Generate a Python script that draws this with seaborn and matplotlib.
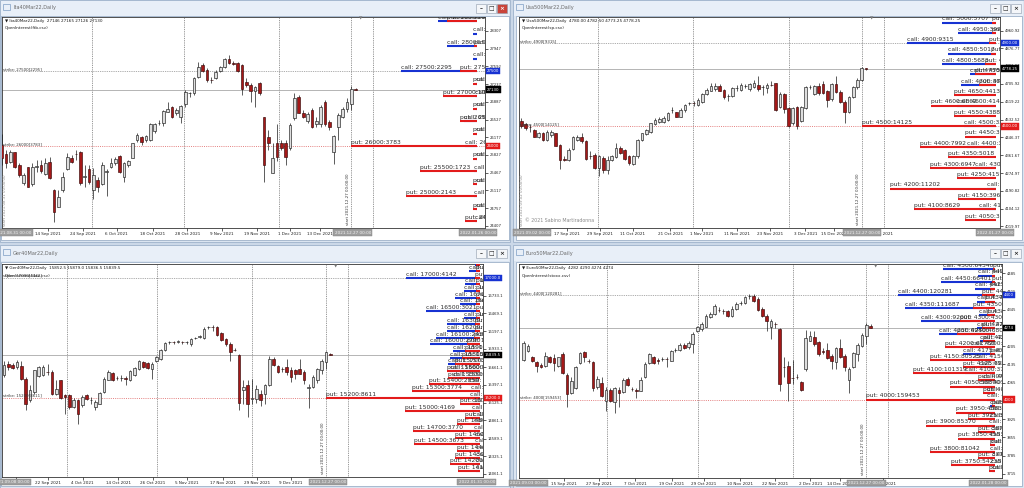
import matplotlib
matplotlib.use("Agg")
import matplotlib.pyplot as plt
import matplotlib.transforms as mtransforms
from matplotlib.patches import Rectangle
import numpy as np
import pandas as pd
import seaborn as sns

sns.set_theme(style="white")
plt.rcParams['font.family'] = ['DejaVu Sans']
plt.rcParams['axes.linewidth'] = 0.6

W, H = 1024, 488

# ---------------- Ita40 ----------------
ita_open = [26026, 25846, 25693, 25880, 25627, 25274, 25580, 25248, 25594, 25627,
            25447, 25693, 25128, 24796, 25128, 25540, 25773, 25846, 25893, 25394,
            25540, 25128, 25328, 25248, 25494, 25594, 25660, 25806, 25394, 25627,
            25773, 26125, 26192, 26125, 26125, 26305, 26458, 26471, 26691, 26790,
            26657, 26591, 26844, 27056, 27056, 27389, 27622, 27522, 27322, 27356,
            27509, 27575, 27735, 27655, 27655, 27622, 27289, 27223, 27110, 27269,
            26578, 26179, 25474, 26059, 26059, 26059, 25959, 26558, 26977, 26657,
            26511, 26724, 26445, 26438, 26890, 26491, 25880, 26391, 26578, 26737,
            26844, 27146]
ita_high = [26245, 25926, 25926, 25893, 25673, 25461, 25594, 25660, 25727, 25727,
            25760, 25793, 25141, 25128, 25494, 25860, 25826, 25926, 25906, 25627,
            25627, 25560, 25394, 25693, 25540, 25760, 25793, 25826, 25693, 25727,
            26072, 26259, 26205, 26225, 26458, 26471, 26524, 26724, 26890, 26804,
            26757, 26824, 27123, 27090, 27389, 27688, 27655, 27555, 27389, 27522,
            27602, 27755, 27821, 27708, 27688, 27642, 27356, 27269, 27203, 27289,
            26591, 26325, 26059, 26445, 26125, 26125, 26458, 27056, 27023, 26724,
            26691, 26757, 26578, 26824, 26924, 26524, 26225, 26657, 26790, 26957,
            27203, 27165]
ita_low = [25627, 25560, 25673, 25560, 25394, 25228, 25181, 25208, 25494, 25461,
           25427, 25341, 24496, 24782, 25095, 25527, 25660, 25727, 25228, 25195,
           25248, 24942, 25095, 25228, 25015, 25560, 25627, 25474, 25294, 25594,
           25760, 26092, 26026, 26092, 26112, 26259, 26425, 26405, 26677, 26558,
           26624, 26471, 26790, 26990, 27023, 27356, 27489, 27289, 27269, 27336,
           27489, 27555, 27642, 27622, 27489, 27023, 27190, 26890, 26777, 27023,
           25294, 25926, 25461, 25713, 25926, 25627, 25926, 26524, 26657, 26558,
           26458, 26358, 26391, 26391, 26405, 26325, 25647, 26125, 26558, 26691,
           26724, 27126]
ita_close = [25760, 25660, 25893, 25580, 25427, 25427, 25195, 25580, 25600, 25514,
             25660, 25361, 24696, 24995, 25394, 25793, 25693, 25840, 25261, 25400,
             25294, 25427, 25181, 25627, 25500, 25660, 25740, 25494, 25660, 25707,
             26059, 26225, 26092, 26205, 26438, 26438, 26465, 26704, 26744, 26578,
             26724, 26804, 27090, 27060, 27369, 27589, 27509, 27322, 27315, 27489,
             27575, 27735, 27655, 27650, 27509, 27136, 27223, 27110, 27176, 27056,
             25627, 26072, 25760, 25780, 25959, 25780, 26425, 26957, 26671, 26578,
             26637, 26391, 26511, 26790, 26445, 26378, 26212, 26624, 26737, 26890,
             27150, 27130]
ita_strikes = [28500, 28250, 28000, 27750, 27500, 27250, 27000, 26750, 26500,
               26250, 26000, 25750, 25500, 25250, 25000, 24750, 24500]
ita_calls = [1160, 120, 910, 120, 2295, 30, 60, 40, 400, 40, 360, 40, 100, 40, 90, 30, 50]
ita_puts = [910, 0, 100, 0, 505, 120, 1031, 120, 505, 120, 3783, 120, 1723, 130, 2143, 120, 374]
ita_yticks = [28307, 27947, 27592, 27237, 26887, 26527, 26177, 25827, 25467, 25117, 24757, 24407]
ita_xlabels = ["14 Sep 2021", "24 Sep 2021", "6 Oct 2021", "18 Oct 2021", "28 Oct 2021",
               "9 Nov 2021", "19 Nov 2021", "1 Dec 2021", "13 Dec 2021"]
ita_boxes = ["2021.08.31 00:00", "2021.12.27 00:00", "2022.01.26 00:00"]

# ---------------- Usa500 ----------------
usa_open = [4528, 4512, 4499, 4483, 4451, 4470, 4435, 4459, 4467, 4411,
            4342, 4336, 4390, 4435, 4451, 4427, 4358, 4363, 4299, 4347,
            4291, 4336, 4352, 4395, 4384, 4355, 4320, 4355, 4432, 4464,
            4475, 4512, 4523, 4523, 4531, 4579, 4567, 4547, 4579, 4611,
            4612, 4603, 4615, 4656, 4672, 4679, 4695, 4676, 4647, 4647,
            4684, 4676, 4695, 4679, 4688, 4700, 4688, 4684, 4700, 4708,
            4592, 4656, 4587, 4515, 4592, 4528, 4587, 4688, 4656, 4695,
            4704, 4668, 4631, 4704, 4663, 4619, 4567, 4640, 4688, 4724,
            4780.00]
usa_high = [4539, 4518, 4512, 4486, 4475, 4475, 4480, 4483, 4470, 4416,
            4355, 4395, 4454, 4459, 4467, 4435, 4379, 4371, 4363, 4355,
            4355, 4363, 4419, 4403, 4390, 4363, 4363, 4438, 4470, 4486,
            4518, 4539, 4547, 4551, 4571, 4592, 4571, 4587, 4608, 4619,
            4624, 4635, 4660, 4684, 4711, 4708, 4704, 4679, 4656, 4688,
            4700, 4708, 4704, 4711, 4724, 4743, 4700, 4708, 4720, 4711,
            4663, 4660, 4592, 4595, 4599, 4599, 4695, 4700, 4700, 4708,
            4716, 4676, 4711, 4743, 4676, 4627, 4647, 4695, 4732, 4788,
            4782.50]
usa_low = [4491, 4480, 4475, 4448, 4443, 4427, 4427, 4451, 4403, 4294,
           4331, 4331, 4384, 4427, 4422, 4339, 4342, 4294, 4259, 4275,
           4272, 4331, 4347, 4368, 4339, 4315, 4315, 4347, 4427, 4459,
           4470, 4507, 4515, 4518, 4528, 4563, 4544, 4544, 4571, 4603,
           4599, 4599, 4611, 4651, 4668, 4672, 4668, 4631, 4624, 4640,
           4672, 4668, 4684, 4672, 4684, 4668, 4652, 4660, 4692, 4576,
           4587, 4563, 4496, 4507, 4486, 4523, 4583, 4679, 4652, 4652,
           4656, 4595, 4624, 4660, 4611, 4518, 4563, 4635, 4679, 4716,
           4773.25]
usa_close = [4502, 4491, 4497, 4451, 4467, 4435, 4475, 4475, 4406, 4339,
             4340, 4387, 4448, 4451, 4427, 4342, 4356, 4299, 4355, 4291,
             4339, 4355, 4395, 4374, 4342, 4323, 4355, 4435, 4467, 4480,
             4515, 4531, 4534, 4539, 4563, 4580, 4547, 4579, 4603, 4612,
             4611, 4627, 4656, 4676, 4692, 4695, 4672, 4643, 4648, 4684,
             4685, 4700, 4696, 4704, 4711, 4679, 4689, 4700, 4699, 4579,
             4656, 4583, 4502, 4587, 4502, 4592, 4688, 4689, 4695, 4660,
             4660, 4627, 4704, 4663, 4619, 4571, 4640, 4688, 4724, 4780,
             4778.25]
usa_strikes = [5000, 4950, 4900, 4850, 4800, 4750, 4700, 4650, 4600, 4550,
               4500, 4450, 4400, 4350, 4300, 4250, 4200, 4150, 4100, 4050]
usa_calls = [5707, 3990, 9315, 5017, 5683, 2770, 3650, 0, 4147, 0,
             3350, 0, 3050, 0, 2176, 0, 950, 0, 1825, 0]
usa_puts = [421, 421, 772, 491, 1120, 2176, 1825, 4413, 6862, 4388,
            14125, 3300, 7992, 5018, 6947, 4157, 11202, 3960, 8629, 3230]
usa_yticks = [4960.92, 4876.77, 4791.07, 4705.92, 4619.22, 4532.52, 4446.37,
              4361.67, 4274.97, 4190.82, 4104.12, 4019.97]
usa_xlabels = ["17 Sep 2021", "29 Sep 2021", "11 Oct 2021", "21 Oct 2021", "1 Nov 2021",
               "11 Nov 2021", "23 Nov 2021", "3 Dec 2021", "15 Dec 2021", "27 Dec 2021"]
usa_boxes = ["2021.09.02 00:00", "2021.12.27 00:00", "2022.01.27 00:00"]

# ---------------- Ger40 ----------------
ger_open = [15535, 15709, 15699, 15659, 15684, 15485, 15160, 15285, 15520, 15535,
            15585, 15585, 15260, 15460, 15235, 15235, 15060, 15160, 15085, 15235,
            15160, 15060, 15110, 15285, 15470, 15570, 15500, 15495, 15490, 15460,
            15535, 15634, 15734, 15719, 15634, 15749, 15784, 15919, 16030, 16035,
            16040, 16035, 16030, 16009, 16090, 16115, 16099, 16255, 16260, 16259,
            16169, 16084, 16009, 15920, 15849, 15310, 15385, 15185, 15185, 15260,
            15260, 15385, 15784, 15684, 15635, 15659, 15620, 15620, 15634, 15585,
            15350, 15360, 15470, 15610, 15734, 15852.5]
ger_high = [15759, 15749, 15719, 15769, 15759, 15510, 15385, 15620, 15684, 15699,
            15709, 15610, 15460, 15470, 15260, 15250, 15200, 15185, 15235, 15260,
            15210, 15160, 15285, 15510, 15610, 15585, 15520, 15535, 15520, 15620,
            15669, 15769, 15759, 15734, 15734, 15834, 15934, 16034, 16059, 16059,
            16064, 16055, 16059, 16099, 16105, 16135, 16259, 16284, 16299, 16284,
            16184, 16099, 16034, 15949, 15859, 15460, 15460, 15485, 15385, 15310,
            15410, 15834, 15809, 15699, 15669, 15784, 15659, 15634, 15784, 15610,
            15410, 15535, 15649, 15784, 15899, 15879.0]
ger_low = [15510, 15620, 15634, 15634, 15470, 15010, 15135, 15260, 15510, 15520,
           15535, 15235, 15235, 15185, 14960, 15035, 15050, 14800, 15060, 15160,
           15110, 15010, 15100, 15270, 15460, 15450, 15470, 15450, 15385, 15450,
           15520, 15620, 15649, 15634, 15485, 15734, 15769, 15899, 16009, 16009,
           16015, 16005, 16000, 15984, 16075, 16100, 16084, 16234, 16199, 16134,
           16049, 15984, 15749, 15899, 15020, 15110, 14910, 15110, 15120, 15070,
           15110, 15370, 15684, 15570, 15585, 15535, 15435, 15485, 15550, 15410,
           15050, 15350, 15420, 15550, 15634, 15836.5]
ger_close = [15699, 15659, 15649, 15734, 15485, 15110, 15310, 15610, 15659, 15669,
             15580, 15260, 15335, 15200, 15210, 15060, 15160, 14960, 15210, 15185,
             15165, 15135, 15270, 15485, 15585, 15470, 15495, 15500, 15485, 15600,
             15649, 15749, 15659, 15649, 15709, 15819, 15919, 16019, 16035, 16030,
             16045, 16030, 16035, 16084, 16095, 16120, 16234, 16260, 16255, 16149,
             16069, 16009, 15884, 15915, 15120, 15360, 15110, 15190, 15335, 15160,
             15385, 15784, 15699, 15585, 15630, 15585, 15510, 15550, 15560, 15460,
             15355, 15510, 15634, 15759, 15884, 15839.5]
ger_strikes = [17200, 17100, 17000, 16900, 16800, 16700, 16600, 16500, 16400, 16300,
               16200, 16100, 16000, 15900, 15800, 15700, 15600, 15500, 15400, 15300,
               15200, 15100, 15000, 14900, 14800, 14700, 14600, 14500, 14400, 14300,
               14200, 14100]
ger_calls = [300, 600, 4142, 837, 890, 1395, 1116, 3021, 900, 1860,
             1860, 2450, 2790, 1488, 1674, 1767, 1700, 1500, 600, 500,
             560, 450, 420, 380, 350, 350, 300, 300, 250, 250, 200, 200]
ger_puts = [250, 250, 300, 200, 200, 250, 250, 250, 250, 300,
            300, 350, 744, 837, 1023, 1395, 1860, 1767, 2859, 3774,
            8611, 1116, 4169, 837, 1302, 3770, 1395, 3673, 1302, 1395, 1674, 1209]
ger_yticks = [16733.1, 16469.1, 16197.1, 15933.1, 15661.1, 15397.1, 15125.1,
              14861.1, 14589.1, 14325.1, 14061.1]
ger_xlabels = ["10 Sep 2021", "22 Sep 2021", "4 Oct 2021", "14 Oct 2021", "26 Oct 2021",
               "5 Nov 2021", "17 Nov 2021", "29 Nov 2021", "9 Dec 2021"]
ger_boxes = ["2021.09.08 00:00", "2021.12.27 00:00", "2022.01.31 00:00"]

# ---------------- Euro50 ----------------
eu_open = [4152, 4188, 4165, 4143, 4134, 4130, 4165, 4159, 4130, 4175,
           4096, 4024, 4044, 4139, 4181, 4147, 4143, 4047, 4062, 3996,
           4037, 3990, 4037, 4028, 4079, 4041, 4035, 4034, 4085, 4139,
           4165, 4150, 4155, 4156, 4149, 4190, 4190, 4209, 4200, 4213,
           4262, 4271, 4279, 4318, 4328, 4345, 4341, 4341, 4322, 4347,
           4369, 4369, 4395, 4398, 4385, 4347, 4322, 4277, 4290, 4271,
           4124, 4130, 4083, 4088, 4066, 4117, 4226, 4239, 4219, 4185,
           4190, 4168, 4143, 4198, 4168, 4075, 4126, 4175, 4207, 4245,
           4282]
eu_high = [4223, 4213, 4168, 4149, 4139, 4181, 4168, 4175, 4165, 4181,
           4101, 4085, 4130, 4181, 4188, 4156, 4149, 4092, 4085, 4047,
           4044, 4050, 4047, 4083, 4085, 4047, 4044, 4085, 4143, 4177,
           4168, 4159, 4162, 4162, 4190, 4197, 4216, 4216, 4223, 4258,
           4283, 4296, 4328, 4334, 4366, 4354, 4347, 4343, 4360, 4373,
           4377, 4398, 4405, 4405, 4392, 4354, 4328, 4309, 4296, 4274,
           4162, 4149, 4152, 4098, 4073, 4267, 4262, 4264, 4226, 4198,
           4216, 4175, 4200, 4232, 4175, 4124, 4181, 4216, 4254, 4292,
           4290]
eu_low = [4149, 4181, 4143, 4105, 4121, 4124, 4139, 4111, 4126, 4098,
          3970, 4022, 4041, 4136, 4143, 4139, 4034, 4041, 4009, 3958,
          3990, 3947, 3970, 4024, 4053, 4034, 4006, 4032, 4083, 4136,
          4136, 4136, 4147, 4126, 4147, 4184, 4185, 4194, 4194, 4177,
          4258, 4262, 4277, 4313, 4325, 4334, 4328, 4315, 4318, 4343,
          4364, 4366, 4385, 4373, 4341, 4318, 4264, 4232, 4274, 4034,
          4088, 3996, 4060, 4079, 4032, 4111, 4223, 4207, 4168, 4175,
          4156, 4117, 4117, 4159, 4111, 4024, 4121, 4149, 4200, 4213,
          4274]
eu_close = [4216, 4207, 4147, 4130, 4124, 4168, 4143, 4139, 4162, 4101,
            4022, 4070, 4126, 4177, 4162, 4146, 4044, 4079, 4015, 4037,
            3993, 4044, 4024, 4075, 4057, 4040, 4034, 4075, 4136, 4175,
            4139, 4149, 4156, 4155, 4185, 4191, 4210, 4198, 4216, 4251,
            4277, 4290, 4322, 4328, 4360, 4344, 4340, 4322, 4347, 4366,
            4370, 4394, 4396, 4377, 4343, 4322, 4300, 4300, 4289, 4060,
            4123, 4062, 4082, 4087, 4037, 4236, 4245, 4213, 4175, 4184,
            4159, 4149, 4198, 4165, 4126, 4117, 4177, 4210, 4249, 4287,
            4274]
eu_strikes = [4500, 4475, 4450, 4425, 4400, 4375, 4350, 4325, 4300, 4275,
              4250, 4225, 4200, 4175, 4150, 4125, 4100, 4075, 4050, 4025,
              4000, 3975, 3950, 3925, 3900, 3875, 3850, 3825, 3800, 3775, 3750, 3725]
eu_calls = [64540, 20650, 66401, 24780, 120281, 22700, 111687, 20000, 92000, 22700,
            69400, 18000, 30000, 40000, 25000, 20000, 37000, 15000, 20000, 10000,
            10000, 6000, 8000, 6000, 8000, 5000, 6000, 5000, 6000, 4000, 5000, 4000]
eu_puts = [3000, 4000, 4000, 6000, 15700, 12400, 26800, 10300, 43000, 16500,
           46800, 14500, 61750, 6000, 80525, 39600, 101319, 20600, 55800, 14500,
           159453, 4000, 48834, 33200, 85370, 20600, 45517, 6000, 81042, 20600, 54235, 8000]
eu_yticks = [4485, 4415, 4345, 4275, 4205, 4135, 4065, 3995, 3925, 3855, 3785, 3715]
eu_xlabels = ["15 Sep 2021", "27 Sep 2021", "7 Oct 2021", "19 Oct 2021", "29 Oct 2021",
              "10 Nov 2021", "22 Nov 2021", "2 Dec 2021", "14 Dec 2021", "27 Dec 2021"]
eu_boxes = ["2021.09.03 00:00", "2021.12.27 00:00", "2022.01.28 00:00"]

# ---------------- layout (pixels) ----------------
panels = [
    dict(title="Ita40Mar22,Daily", header="Ita40Mar22,Daily  27146 27165 27126 27130",
         oi_name="OpenInterest(ftb.csv)", o=ita_open, h=ita_high, l=ita_low, c=ita_close,
         strikes=ita_strikes, calls=ita_calls, puts=ita_puts, yticks=ita_yticks, yfmt="{:.0f}",
         xlabels=ita_xlabels, boxes=ita_boxes, win=(0, 0, 510, 242), client=(1, 16, 509, 240),
         ax_px=(2, 17, 485, 228), x0px=1.67, dx=4.37, bar_end_px=477, ylim=(24367, 28580),
         grid_px=[92, 184, 279, 373],
         xlab_px=[48.3, 83.3, 116.7, 152.7, 187.3, 221.7, 256.7, 290, 320],
         box_px=[13.3, 352.7, 478], call_strike=27500, put_strike=26000, active=True,
         left_note="start 2021.08.31 00:00:00", copyright=None),
    dict(title="Usa500Mar22,Daily", header="Usa500Mar22,Daily  4780.00 4782.50 4773.25 4778.25",
         oi_name="OpenInterest(sp.csv)", o=usa_open, h=usa_high, l=usa_low, c=usa_close,
         strikes=usa_strikes, calls=usa_calls, puts=usa_puts, yticks=usa_yticks, yfmt="{:.2f}",
         xlabels=usa_xlabels, boxes=usa_boxes, win=(513, 0, 1024, 242), client=(516, 16, 1022, 240),
         ax_px=(519, 17, 1000, 228), x0px=521.3, dx=4.31, bar_end_px=996, ylim=(4010.4, 5026.6),
         grid_px=[598, 693, 788.7, 883.7],
         xlab_px=[567, 600.3, 632.7, 670.3, 702, 737, 770.3, 805.3, 833.7, 880],
         box_px=[532, 862, 995], call_strike=4900, put_strike=4500, active=False,
         left_note="start 2021.09.02 00:00:00", copyright="\u00a9 2021 Sabino Martiradonna"),
    dict(title="Ger40Mar22,Daily", header="Ger40Mar22,Daily  15852.5 15879.0 15836.5 15839.5",
         oi_name="OpenInterest(dax.csv)", o=ger_open, h=ger_high, l=ger_low, c=ger_close,
         strikes=ger_strikes, calls=ger_calls, puts=ger_puts, yticks=ger_yticks, yfmt="{:.1f}",
         xlabels=ger_xlabels, boxes=ger_boxes, win=(0, 245, 510, 488), client=(1, 262, 509, 486),
         ax_px=(2, 264, 483, 477), x0px=4.0, dx=4.35, bar_end_px=480, ylim=(14011.4, 17207.6),
         grid_px=[66.7, 157.3, 252.3, 347.7],
         xlab_px=[16, 48.3, 82.7, 118.3, 152.7, 186.7, 222.7, 256.7, 290.7],
         box_px=[11.7, 328, 476.7], call_strike=17000, put_strike=15200, active=False,
         left_note=None, copyright=None),
    dict(title="Euro50Mar22,Daily", header="Euro50Mar22,Daily  4282 4290 4274 4274",
         oi_name="OpenInterest(stoxx.csv)", o=eu_open, h=eu_high, l=eu_low, c=eu_close,
         strikes=eu_strikes, calls=eu_calls, puts=eu_puts, yticks=eu_yticks, yfmt="{:.0f}",
         xlabels=eu_xlabels, boxes=eu_boxes, win=(513, 245, 1024, 488), client=(516, 262, 1022, 486),
         ax_px=(519, 264, 1002, 478), x0px=523.7, dx=4.337, bar_end_px=995, ylim=(3699.6, 4519.5),
         grid_px=[607, 697.7, 793, 888],
         xlab_px=[563.7, 598.7, 635.3, 672, 703.7, 740.3, 775.3, 810.3, 840.3, 883],
         box_px=[528.7, 866.3, 988.7], call_strike=4400, put_strike=4000, active=False,
         left_note=None, copyright=None),
]

fig = plt.figure(figsize=(W / 100, H / 100), dpi=100)
fig.patch.set_facecolor('#cbd8e8')

# window chrome
bg = fig.add_axes([0, 0, 1, 1], zorder=-10)
bg.set_xlim(0, W)
bg.set_ylim(H, 0)
bg.axis('off')
for p in panels:
    x0, y0, x1, y1 = p['win']
    bg.add_patch(Rectangle((x0, y0), x1 - x0, y1 - y0, facecolor='#dbe5f1', edgecolor='#9eb2cb', lw=0.6))
    bg.add_patch(Rectangle((x0 + 1, y0 + 1), x1 - x0 - 2, 14.5, facecolor='#e8eff8', edgecolor='none'))
    cx0, cy0, cx1, cy1 = p['client']
    bg.add_patch(Rectangle((cx0, cy0), cx1 - cx0, cy1 - cy0, facecolor='white', edgecolor='#8ea3bf', lw=0.5))
    # icon + title
    bg.add_patch(Rectangle((x0 + 3, y0 + 4), 7, 6, facecolor='#e8eff8', edgecolor='#7c9cc4', lw=0.5))
    bg.text(x0 + 13, y0 + 8, p['title'], fontsize=3.6, color='#6a6a6a', va='center', ha='left')
    # buttons
    for k, sym in enumerate(['\u2013', '\u25a1', '\u00d7']):
        bx = x1 - 34 + k * 10.5
        red = p['active'] and k == 2
        bg.add_patch(Rectangle((bx, y0 + 3.5), 9.5, 9.5, facecolor='#c9443a' if red else '#f4f6f9',
                               edgecolor='#8d9aab', lw=0.4))
        bg.text(bx + 4.75, y0 + 8.3, sym, fontsize=4.2, color='white' if red else '#222222',
                ha='center', va='center', fontweight='bold')


def px_rect(x0, y0, x1, y1):
    return [x0 / W, 1 - y1 / H, (x1 - x0) / W, (y1 - y0) / H]


for p in panels:
    o, hi, lo, c = (np.asarray(p[k], float) for k in ('o', 'h', 'l', 'c'))
    df = pd.DataFrame({'open': o, 'high': hi, 'low': lo, 'close': c})
    n = len(df)
    x0px, dx = p['x0px'], p['dx']

    def tox(px):
        return (px - x0px) / dx

    ax = fig.add_axes(px_rect(*p['ax_px']))
    ax.set_facecolor('white')
    ax.set_xlim(tox(p['ax_px'][0]), tox(p['ax_px'][2]))
    ax.set_ylim(*p['ylim'])
    for s in ax.spines.values():
        s.set_color('#333333')
        s.set_linewidth(0.6)

    idx = np.arange(n)
    start = n - 2
    bar_end = tox(p['bar_end_px'])
    dots = (0, (1.2, 1.4))

    for gx in p['grid_px']:
        ax.axvline(tox(gx), color='#555555', lw=0.5, ls=dots, zorder=1)
    ax.axvline(start, color='#555555', lw=0.5, ls=dots, zorder=1)
    ax.axhline(p['call_strike'], color='#777777', lw=0.5, ls=dots, zorder=1)
    ax.axhline(p['put_strike'], color='#e07070', lw=0.6, ls=dots, zorder=1)
    ax.axhline(df['close'].iloc[-1], color='#a8a8a8', lw=0.6, zorder=1)

    # candles
    up = (df['close'] >= df['open']).values
    ax.vlines(idx, df['low'], df['high'], color='#1c1c1c', lw=0.5, zorder=3)
    body_lo = np.minimum(o, c)
    body_h = np.abs(c - o)
    ax.bar(idx[up], body_h[up], bottom=body_lo[up], width=0.62, color='#dedede',
           edgecolor='#1c1c1c', linewidth=0.45, zorder=4)
    ax.bar(idx[~up], body_h[~up], bottom=body_lo[~up], width=0.62, color='#a51818',
           edgecolor='#3a0a0a', linewidth=0.45, zorder=4)

    # open-interest bars
    strikes = np.asarray(p['strikes'], float)
    calls = np.asarray(p['calls'], float)
    puts = np.asarray(p['puts'], float)
    m = max(calls.max(), puts.max())
    span = bar_end - start
    off = mtransforms.ScaledTranslation(0, 0.9 / 72, fig.dpi_scale_trans)
    for vals, col, name, z in ((calls, '#1732d2', 'call', 6), (puts, '#e31b1b', 'put', 7)):
        L = vals / m * span
        keep = vals > 0
        ax.hlines(strikes[keep], bar_end - L[keep], bar_end, color=col, lw=1.5, zorder=z)
        for k, v, ln in zip(strikes[keep], vals[keep], L[keep]):
            ax.text(bar_end - ln, k, f"{name}: {int(k)}:{int(v)}", transform=ax.transData + off,
                    fontsize=4.3, color='#2b2b2b', ha='left', va='bottom', clip_on=True, zorder=8)

    # strike labels on the left
    xl0 = ax.get_xlim()[0]
    ci = list(strikes).index(p['call_strike'])
    pi = list(strikes).index(p['put_strike'])
    ax.text(xl0 + 0.3, p['call_strike'], f"strike: {p['call_strike']}[{int(calls[ci])}]",
            fontsize=2.8, color='#333333', ha='left', va='bottom', zorder=8)
    ax.text(xl0 + 0.3, p['put_strike'], f"strike: {p['put_strike']}[{int(puts[pi])}]",
            fontsize=2.8, color='#333333', ha='left', va='bottom', zorder=8)

    # header
    ax.text(0.006, 0.982, "\u25bc " + p['header'], transform=ax.transAxes, fontsize=3.0,
            color='#1a1a1a', ha='left', va='center', zorder=9)
    ax.text(0.006, 0.946, p['oi_name'], transform=ax.transAxes, fontsize=3.0,
            color='#1a1a1a', ha='left', va='center', zorder=9)

    bt = mtransforms.blended_transform_factory(ax.transData, ax.transAxes)
    ax.text(start - 0.3, 0.012, "start 2021.12.27 00:00:00", transform=bt, rotation=90,
            fontsize=2.8, color='#333333', ha='right', va='bottom', zorder=9)
    ax.text(start + 2.2, 1.0, "\u25bc", transform=bt, fontsize=3.2, color='#777777',
            ha='center', va='top', zorder=9)
    if p['left_note']:
        ax.text(xl0 + 0.2, 0.01, p['left_note'], transform=bt, rotation=90, fontsize=2.8,
                color='#8a8a8a', ha='left', va='bottom', zorder=9)
    if p['copyright']:
        ax.text(0.012, 0.035, p['copyright'], transform=ax.transAxes, fontsize=3.4,
                color='#8a8a8a', ha='left', va='center', zorder=9)

    # right price axis
    ax.yaxis.tick_right()
    ax.set_yticks(p['yticks'])
    ax.set_yticklabels([p['yfmt'].format(v) for v in p['yticks']])
    ax.tick_params(axis='y', which='both', right=True, left=False, length=2, width=0.5,
                   labelsize=2.7, pad=1.5, colors='#202020')
    ax.set_xticks([tox(v) for v in p['xlab_px']])
    ax.set_xticklabels(p['xlabels'])
    ax.tick_params(axis='x', bottom=True, length=2, width=0.5, labelsize=3.0, pad=1.2,
                   colors='#202020')

    bt2 = mtransforms.blended_transform_factory(ax.transAxes, ax.transData)
    for val, col in ((p['call_strike'], '#1732d2'), (df['close'].iloc[-1], '#000000'),
                     (p['put_strike'], '#e31b1b')):
        ax.text(1.004, val, p['yfmt'].format(val), transform=bt2, fontsize=2.8, color='white',
                ha='left', va='center', clip_on=False, zorder=12,
                bbox=dict(boxstyle='square,pad=0.3', fc=col, ec=col, lw=0.3))

    bx = mtransforms.blended_transform_factory(ax.transData, ax.transAxes)
    for px, txt in zip(p['box_px'], p['boxes']):
        ax.text(tox(px), -0.012, txt, transform=bx, fontsize=3.0, color='#f4f4f4',
                ha='center', va='top', clip_on=False, zorder=12,
                bbox=dict(boxstyle='square,pad=0.25', fc='#9e9e9e', ec='#808080', lw=0.3))

fig.savefig("out.png", dpi=100, facecolor=fig.get_facecolor())
